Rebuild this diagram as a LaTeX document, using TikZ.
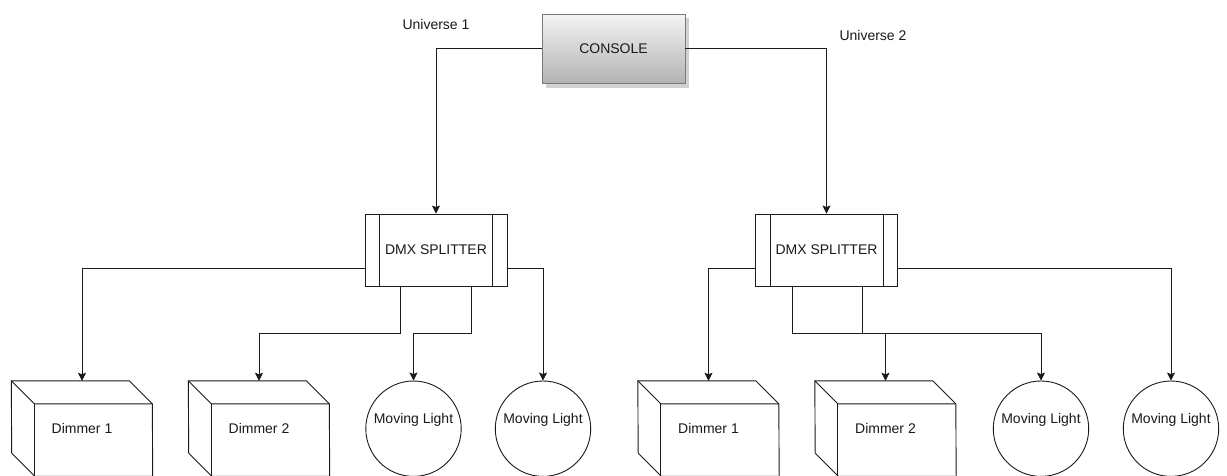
\documentclass[tikz,border=0pt]{standalone}
\usepackage{fontspec}
\setmainfont{Liberation Sans}
\usetikzlibrary{arrows.meta,calc,shadows}

\definecolor{ink}{HTML}{1A1A1A}
\definecolor{consoleedge}{HTML}{7A7A7A}

\tikzset{
  wire/.style={draw=ink, line width=0.9pt},
  feed/.style={wire, -{Stealth[length=8pt,width=8pt,inset=1.5pt]}},
  txt/.style={font=\fontsize{14}{16}\selectfont, text=ink},
  consolebox/.style={txt, rectangle, draw=consoleedge, line width=0.9pt,
    top color=white!96!black, bottom color=black!30, minimum width=143pt,
    minimum height=69pt, inner sep=0pt},
  splitterbox/.style={txt, rectangle, draw=ink, line width=0.9pt, fill=white,
    minimum width=142pt, minimum height=72pt, inner sep=0pt},
  cubebox/.style={txt, rectangle, draw=none, minimum width=141pt,
    minimum height=95pt, inner sep=0pt},
  cubeline/.style={draw=ink, line width=0.9pt, line join=miter},
  lightbox/.style={txt, circle, draw=ink, line width=0.9pt, fill=white,
    minimum size=95.4pt, inner sep=0pt, text height=10pt, text depth=20pt},
  tag/.style={txt, inner sep=0pt}
}

% a dimmer drawn as an open cube: back edge offset 23pt up and left
\newcommand\dimmerbox[4]{%
  \node[cubebox] (#1) at (#2,#3) {#4};
  \draw[cubeline] (#1.north west) -- ++(118,0) -- ++(23,23) -- (#1.south east)
    -- ++(-118,0) -- ++(-23,-23) -- cycle;
  \draw[cubeline] (#1.north west) -- ++(23,23) -- ++(118,0);
  \draw[cubeline] ($(#1.north west)+(23,23)$) -- ($(#1.south west)+(23,0)$);
}

\begin{document}
\begin{tikzpicture}[x=1pt,y=-1pt]
  \useasboundingbox (0,0) rectangle (1227,475);
  \clip (0,0) rectangle (1227,475);
  \fill[white] (0,0) rectangle (1227,475);

  % console with its soft drop shadow
  \fill[black!18] (545.5,18) rectangle (688.5,87.5);
  \node[consolebox] (console) at (613.5,48.5) {CONSOLE};

  % splitters
  \node[splitterbox] (s1) at (436,250) {DMX SPLITTER};
  \draw[wire] ($(s1.north west)+(15,0)$) -- ($(s1.south west)+(15,0)$);
  \draw[wire] ($(s1.north east)+(-15,0)$) -- ($(s1.south east)+(-15,0)$);
  \node[splitterbox] (s2) at (826.5,250) {DMX SPLITTER};
  \draw[wire] ($(s2.north west)+(15,0)$) -- ($(s2.south west)+(15,0)$);
  \draw[wire] ($(s2.north east)+(-15,0)$) -- ($(s2.south east)+(-15,0)$);

  % fixtures
  \dimmerbox{d1}{82}{428.5}{Dimmer 1}
  \dimmerbox{d2}{259}{428.5}{Dimmer 2}
  \dimmerbox{d3}{708.5}{428.5}{Dimmer 1}
  \dimmerbox{d4}{885.5}{428.5}{Dimmer 2}
  \node[lightbox] (m1) at (413.5,428.7) {Moving Light};
  \node[lightbox] (m2) at (543,428.7) {Moving Light};
  \node[lightbox] (m3) at (1041,428.7) {Moving Light};
  \node[lightbox] (m4) at (1171,428.7) {Moving Light};

  % universe labels
  \node[tag] (u1) at (436,24) {Universe 1};
  \node[tag] (u2) at (873,35) {Universe 2};

  % console outputs
  \draw[feed] (console.west) -| (s1.north);
  \draw[feed] (console.east) -| (s2.north);

  % splitter ports
  \coordinate (s1l) at ($(s1.south west)+(0,-18)$);
  \coordinate (s1r) at ($(s1.south east)+(0,-18)$);
  \coordinate (s1a) at ($(s1.south west)+(36,0)$);
  \coordinate (s1b) at ($(s1.south west)+(107,0)$);
  \coordinate (s2l) at ($(s2.south west)+(0,-18)$);
  \coordinate (s2r) at ($(s2.south east)+(0,-18)$);
  \coordinate (s2a) at ($(s2.south west)+(37,0)$);
  \coordinate (s2b) at ($(s2.south west)+(107,0)$);

  % universe 1 runs
  \draw[feed] (s1l) -| (d1.north);
  \draw[feed] (s1r) -| (m2.north);
  \draw[feed] (s1a) -- ($(s1a)+(0,47)$) -| (d2.north);
  \draw[feed] (s1b) -- ($(s1b)+(0,47)$) -| (m1.north);

  % universe 2 runs
  \draw[feed] (s2l) -| (d3.north);
  \draw[feed] (s2r) -| (m4.north);
  \draw[feed] (s2a) -- ($(s2a)+(0,47)$) -| (d4.north);
  \draw[feed] (s2b) -- ($(s2b)+(0,47)$) -| (m3.north);
\end{tikzpicture}
\end{document}
